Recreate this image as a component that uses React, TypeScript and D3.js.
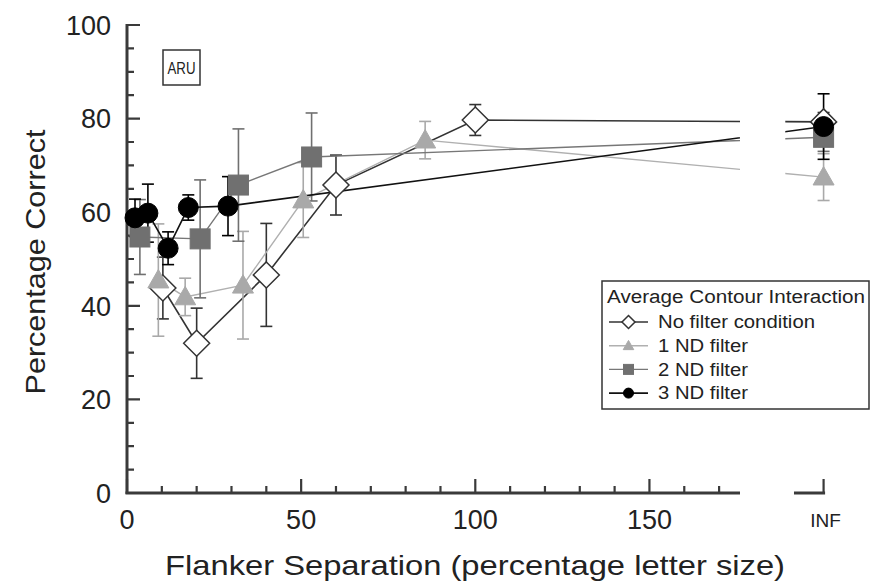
import * as d3 from 'd3';

// flanker separation (% letter size), INF drawn at 200 on the x scale
const INF = 200;

const noFilterX = [10.3, 20, 40, 60, 100, INF];
const noFilterY = [43.8, 32, 46.6, 65.8, 79.7, 79.3];
const noFilterErr = [6.6, 7.5, 11, 6.4, 3.3, 2];

const nd1X = [9, 16.7, 33.3, 50.6, 85.6, INF];
const nd1Y = [45.5, 41.9, 44.4, 62.6, 75.4, 67.5];
const nd1Err = [12, 4, 11.5, 8, 4, 5];

const nd2X = [3.7, 21, 32, 53, INF];
const nd2Y = [54.7, 54.3, 65.8, 71.8, 76];
const nd2Err = [8, 12.6, 12, 9.4, 3];

const nd3X = [2.3, 6, 11.8, 17.6, 29, INF];
const nd3Y = [58.8, 59.8, 52.3, 61, 61.3, 78.3];
const nd3Err = [4, 6.2, 3.5, 2.7, 6.3, 7];

const xTicksMajor = [0, 50, 100, 150];
const yTicksMajor = [0, 20, 40, 60, 80, 100];
const legendTitle = 'Average Contour Interaction';
const legendLabels = ['No filter condition', '1 ND filter', '2 ND filter', '3 ND filter'];
const legendWidths = [157, 90, 90, 90];

const FONT = 'Liberation Sans, Arial, sans-serif';

const series = [
  { xs: noFilterX, ys: noFilterY, err: noFilterErr, shape: 'diamond', fill: '#fff', stroke: '#333', line: '#333', lw: 1.6 },
  { xs: nd1X, ys: nd1Y, err: nd1Err, shape: 'triangle', fill: '#a9a9a9', stroke: '#a9a9a9', line: '#b0b0b0', lw: 1.4 },
  { xs: nd2X, ys: nd2Y, err: nd2Err, shape: 'square', fill: '#707070', stroke: '#707070', line: '#777', lw: 1.4 },
  { xs: nd3X, ys: nd3Y, err: nd3Err, shape: 'circle', fill: '#000', stroke: '#000', line: '#111', lw: 1.6 },
];

function Marker({ shape, cx, cy, fill, stroke, scale = 1 }) {
  if (shape === 'diamond') {
    const r = 13 * scale;
    return <path d={`M${cx},${cy - r}L${cx + r},${cy}L${cx},${cy + r}L${cx - r},${cy}Z`} fill={fill} stroke={stroke} strokeWidth={1.5} />;
  }
  if (shape === 'triangle') {
    const r = 10.5 * scale;
    return <path d={`M${cx},${cy - r}L${cx + r},${cy + r * 0.75}L${cx - r},${cy + r * 0.75}Z`} fill={fill} stroke={stroke} />;
  }
  if (shape === 'square') {
    const s = 10 * scale;
    return <rect x={cx - s} y={cy - s} width={2 * s} height={2 * s} fill={fill} stroke={stroke} />;
  }
  return <circle cx={cx} cy={cy} r={10 * scale} fill={fill} stroke={stroke} />;
}

export default function App() {
  const x = d3.scaleLinear().domain([0, 176]).range([127, 740]);
  const y = d3.scaleLinear().domain([0, 100]).range([493, 25]);
  const axisColor = '#3a3a3a';

  const line = d3.line<[number, number]>().x(d => x(d[0])).y(d => y(d[1]));

  // ticks point inward
  let yTickPath = '';
  d3.range(0, 101, 5).forEach(v => {
    yTickPath += `M${x(0)},${y(v)}h${v % 20 === 0 ? 13 : 7}`;
  });
  let xTickPath = '';
  d3.range(0, 171, 10).forEach(v => {
    xTickPath += `M${x(v)},${y(0)}v${v % 50 === 0 ? -14 : -7}`;
  });

  return (
    <svg width={871} height={588} style={{ position: 'absolute', left: 0, top: 0, background: '#fff' }}>
      <defs>
        <clipPath id="brk">
          <rect x={0} y={0} width={x(176)} height={588} />
          <rect x={x(189)} y={0} width={871 - x(189)} height={588} />
        </clipPath>
      </defs>

      <rect x={x(0) - 1.5} y={y(100) - 1} width={3} height={y(0) - y(100) + 2} fill={axisColor} />
      <rect x={x(0) - 1.5} y={y(0) - 1.5} width={x(176) - x(0) + 1.5} height={3} fill={axisColor} />
      <rect x={x(191.5)} y={y(0) - 1.5} width={x(INF) - x(191.5) + 1.5} height={3} fill={axisColor} />
      <path d={yTickPath} fill="none" stroke={axisColor} strokeWidth={2.2} />
      <path d={xTickPath + `M${x(INF)},${y(0)}v-14`} fill="none" stroke={axisColor} strokeWidth={2.2} />

      {yTicksMajor.map(v => (
        <text key={'yl' + v} x={111} y={y(v)} dy="0.36em" textAnchor="end" fontFamily={FONT} fontSize={27} fill="#222">{v}</text>
      ))}
      {xTicksMajor.map(v => (
        <text key={'xl' + v} x={x(v)} y={529} textAnchor="middle" fontFamily={FONT} fontSize={27} fill="#222">{v}</text>
      ))}
      <text x={x(INF) + 2} y={527} textAnchor="middle" fontFamily={FONT} fontSize={19} fill="#222">INF</text>

      {/* axis titles */}
      <text x={475} y={575} textAnchor="middle" fontFamily={FONT} fontSize={28} fill="#222" textLength={620} lengthAdjust="spacingAndGlyphs">Flanker Separation (percentage letter size)</text>
      <text transform={`translate(45,${262}) rotate(-90)`} textAnchor="middle" fontFamily={FONT} fontSize={28} fill="#222" textLength={265} lengthAdjust="spacingAndGlyphs">Percentage Correct</text>

      {/* ARU label */}
      <rect x={163} y={50} width={37} height={35} fill="#fff" stroke="#333" strokeWidth={1.5} />
      <text x={181.5} y={68} dy="0.35em" textAnchor="middle" fontFamily={FONT} fontSize={16} fill="#222" textLength={28} lengthAdjust="spacingAndGlyphs">ARU</text>

      {/* series */}
      {series.map((s, si) => {
        const pts: [number, number][] = s.xs.map((v, i) => [v, s.ys[i]]);
        return (
          <g key={'s' + si}>
            {pts.map((p, i) => {
              const e = s.err[i];
              const cx = x(p[0]);
              return (
                <g key={'e' + i} stroke={s.stroke} strokeWidth={1.6}>
                  <line x1={cx} x2={cx} y1={y(p[1] + e)} y2={y(p[1] - e)} />
                  <line x1={cx - 6} x2={cx + 6} y1={y(p[1] + e)} y2={y(p[1] + e)} />
                  <line x1={cx - 6} x2={cx + 6} y1={y(p[1] - e)} y2={y(p[1] - e)} />
                </g>
              );
            })}
            <path d={line(pts) || ''} fill="none" stroke={s.line} strokeWidth={s.lw} clipPath="url(#brk)" />
          </g>
        );
      })}
      {series.map((s, si) => (
        <g key={'m' + si}>
          {s.xs.map((v, i) => (
            <Marker key={i} shape={s.shape} cx={x(v)} cy={y(s.ys[i])} fill={s.fill} stroke={s.stroke} />
          ))}
        </g>
      ))}

      {/* legend */}
      <rect x={602} y={281} width={267} height={128} fill="#fff" stroke="#333" strokeWidth={1.5} />
      <text x={607} y={297} dy="0.35em" fontFamily={FONT} fontSize={18} fill="#222" textLength={258} lengthAdjust="spacingAndGlyphs">{legendTitle}</text>
      {legendLabels.map((lab, i) => {
        const ly = 322 + i * 23.7;
        const s = series[i];
        return (
          <g key={'lg' + i}>
            <line x1={609} x2={648} y1={ly} y2={ly} stroke={s.line} strokeWidth={s.lw} />
            <Marker shape={s.shape} cx={628.5} cy={ly} fill={s.fill} stroke={s.stroke} scale={0.5} />
            <text x={658} y={ly} dy="0.35em" fontFamily={FONT} fontSize={18} fill="#222" textLength={legendWidths[i]} lengthAdjust="spacingAndGlyphs">{lab}</text>
          </g>
        );
      })}
    </svg>
  );
}
